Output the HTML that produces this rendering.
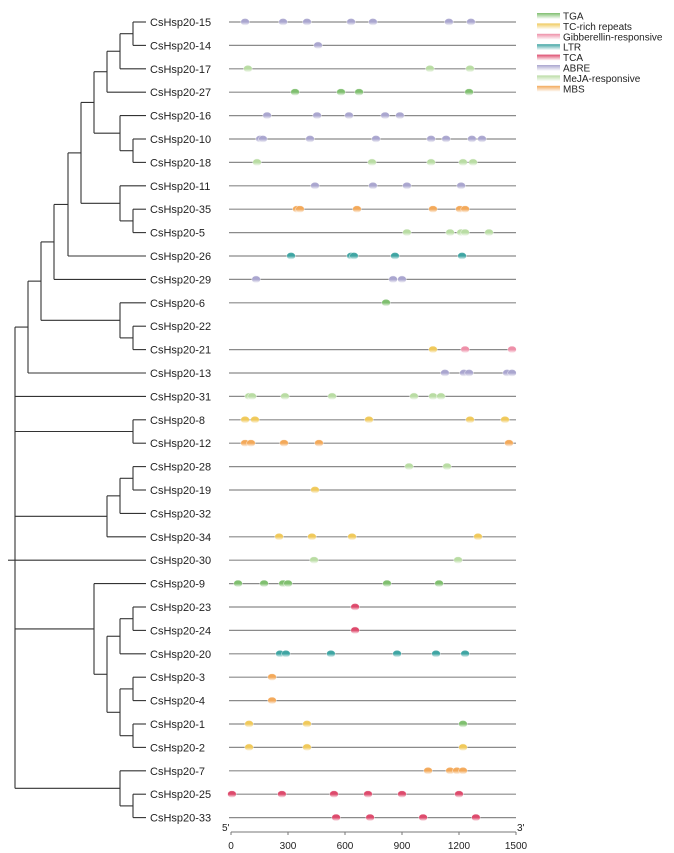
<!DOCTYPE html>
<html><head><meta charset="utf-8"><style>
html,body{margin:0;padding:0;background:#fff;}
svg{display:block;font-family:"Liberation Sans",Arial,sans-serif;}
</style></head><body>
<svg id="chart" width="674" height="853" viewBox="0 0 674 853" xmlns="http://www.w3.org/2000/svg">
<defs id="defs"></defs>
<g id="tree"></g>
<g id="rows"></g>
<g id="axis"></g>
<g id="legend"></g>
</svg>
<script>
const genes = ["15","14","17","27","16","10","18","11","35","5","26","29","6","22","21","13","31","8","12","28","19","32","34","30","9","23","24","20","3","4","1","2","7","25","33"];
const elementTypes = ["TGA","TC-rich repeats","Gibberellin-responsive","LTR","TCA","ABRE","MeJA-responsive","MBS"];
const elementColors = ["#7fbf6f","#f0c95a","#ee8fa8","#3fa5a3","#dd4a6c","#aaa6cf","#b9dca3","#f3a95a"];
const xTicks = [0,300,600,900,1200,1500];
// per gene: [type, position]
const sites = {
"15":[[5,74],[5,274],[5,400],[5,632],[5,747],[5,1147],[5,1263]],
"14":[[5,458]],
"17":[[6,89],[6,1047],[6,1258]],
"27":[[0,337],[0,579],[0,674],[0,1253]],
"16":[[5,190],[5,453],[5,621],[5,811],[5,889]],
"10":[[5,153],[5,168],[5,416],[5,763],[5,1053],[5,1132],[5,1268],[5,1321]],
"18":[[6,137],[6,742],[6,1053],[6,1221],[6,1274]],
"11":[[5,442],[5,747],[5,926],[5,1211]],
"35":[[7,347],[7,363],[7,663],[7,1063],[7,1205],[7,1232]],
"5":[[6,926],[6,1153],[6,1211],[6,1232],[6,1358]],
"26":[[3,316],[3,632],[3,647],[3,863],[3,1216]],
"29":[[5,132],[5,853],[5,900]],
"6":[[0,816]],
"22":[],
"21":[[1,1063],[2,1232],[2,1479]],
"13":[[5,1126],[5,1226],[5,1253],[5,1453],[5,1479]],
"31":[[6,95],[6,111],[6,284],[6,532],[6,963],[6,1063],[6,1105]],
"8":[[1,74],[1,126],[1,726],[1,1258],[1,1442]],
"12":[[7,74],[7,105],[7,279],[7,463],[7,1463]],
"28":[[6,937],[6,1137]],
"19":[[1,442]],
"32":[],
"34":[[1,253],[1,426],[1,637],[1,1300]],
"30":[[6,437],[6,1195]],
"9":[[0,37],[0,174],[0,274],[0,300],[0,821],[0,1095]],
"23":[[4,653]],
"24":[[4,653]],
"20":[[3,258],[3,289],[3,526],[3,874],[3,1079],[3,1232]],
"3":[[7,216]],
"4":[[7,216]],
"1":[[1,95],[1,400],[0,1221]],
"2":[[1,95],[1,400],[1,1221]],
"7":[[7,1037],[7,1153],[7,1189],[7,1221]],
"25":[[4,5],[4,268],[4,542],[4,721],[4,900],[4,1200]],
"33":[[4,553],[4,732],[4,1011],[4,1289]]
};
const tree = [15,
  [28,[41,[54,[68,[81,[94,[107,[120,[133,"15","14"],"17"],"27"],[120,"16",[133,"10","18"]]],[120,"11",[133,"35","5"]]],"26"],"29"],[120,"6",[133,"22","21"]]],"13"],
  "31",
  [133,"8","12"],
  [107,[120,[133,"28","19"],"32"],"34"],
  "30",
  [94,"9",[107,[120,[133,"23","24"],"20"],[120,[133,"3","4"],[133,"1","2"]]]],
  [120,"7",[133,"25","33"]]
];
const NS="http://www.w3.org/2000/svg";
function mk(tag,attrs,parent){const e=document.createElementNS(NS,tag);for(const k in attrs)e.setAttribute(k,attrs[k]);parent.appendChild(e);return e;}
const rowY=i=>22+i*23.4;
const xs=v=>231+v*(285/1500);
const defs=document.getElementById('defs');
elementColors.forEach((c,i)=>{
  const g=mk('linearGradient',{id:'g'+i,x1:0,y1:0,x2:0,y2:1},defs);
  mk('stop',{offset:'0','stop-color':c,'stop-opacity':'0.75'},g);
  mk('stop',{offset:'0.2','stop-color':c},g);
  mk('stop',{offset:'0.5','stop-color':c},g);
  mk('stop',{offset:'1','stop-color':'#ffffff'},g);
  const lg=mk('linearGradient',{id:'l'+i,x1:0,y1:0,x2:0,y2:1},defs);
  mk('stop',{offset:'0','stop-color':c},lg);
  mk('stop',{offset:'1','stop-color':'#ffffff'},lg);
});
const T=document.getElementById('tree');
const LEAFX=146;
function line(x1,y1,x2,y2,name){const l=mk('line',{x1,y1,x2,y2,stroke:'#333','stroke-width':1.1},T);

}
function draw(node){
  if(typeof node==='string'){return {y:rowY(genes.indexOf(node)),x:LEAFX};}
  const x=node[0];const ch=node.slice(1).map(draw);
  ch.forEach(c=>line(x,c.y,c.x,c.y,'tree-branch'));
  const ys=ch.map(c=>c.y);const y0=Math.min(...ys),y1=Math.max(...ys);
  line(x,y0,x,y1,'tree-node-connector');
  return {x:x,y:(y0+y1)/2};
}
draw(tree);
line(8,rowY(23),15,rowY(23),'tree-root');
const R=document.getElementById('rows');
genes.forEach((g,i)=>{
  const y=rowY(i);
  const grp=mk('g',{},R);
  
  
  const t=mk('text',{x:150,y:y+4,'font-size':11,fill:'#222'},grp);
  t.textContent='CsHsp20-'+g;
  
  
  if(sites[g].length){
    const l=mk('line',{x1:229,y1:y,x2:516,y2:y,stroke:'#8a8a8a','stroke-width':1.2},grp);
    
    
  }
  sites[g].forEach(s=>{
    const e=mk('ellipse',{cx:xs(s[1]),cy:y,rx:4.3,ry:3.6,fill:'url(#g'+s[0]+')',stroke:'#ffffff','stroke-width':0.4},grp);
    
    
  });
});
const A=document.getElementById('axis');
mk('line',{x1:231,y1:832,x2:516,y2:832,stroke:'#777','stroke-width':1},A);
xTicks.forEach(v=>{
  mk('line',{x1:xs(v),y1:832,x2:xs(v),y2:835,stroke:'#777','stroke-width':1},A);
  const t=mk('text',{x:xs(v),y:849,'font-size':10,'text-anchor':'middle',fill:'#222'},A);
  t.textContent=v;
  
  
});
const t5=mk('text',{x:222,y:831,'font-size':10,fill:'#222'},A);t5.textContent="5'";


const t3=mk('text',{x:517,y:831,'font-size':10,fill:'#222'},A);t3.textContent="3'";


const L=document.getElementById('legend');
elementTypes.forEach((n,i)=>{
  const y=16+i*10.4;
  const g=mk('g',{},L);
  
  
  mk('rect',{x:537,y:y-3,width:23,height:6,fill:'url(#l'+i+')'},g);
  const t=mk('text',{x:563,y:y+3.5,'font-size':10,fill:'#222'},g);
  t.textContent=n;
});
</script>
</body></html>
